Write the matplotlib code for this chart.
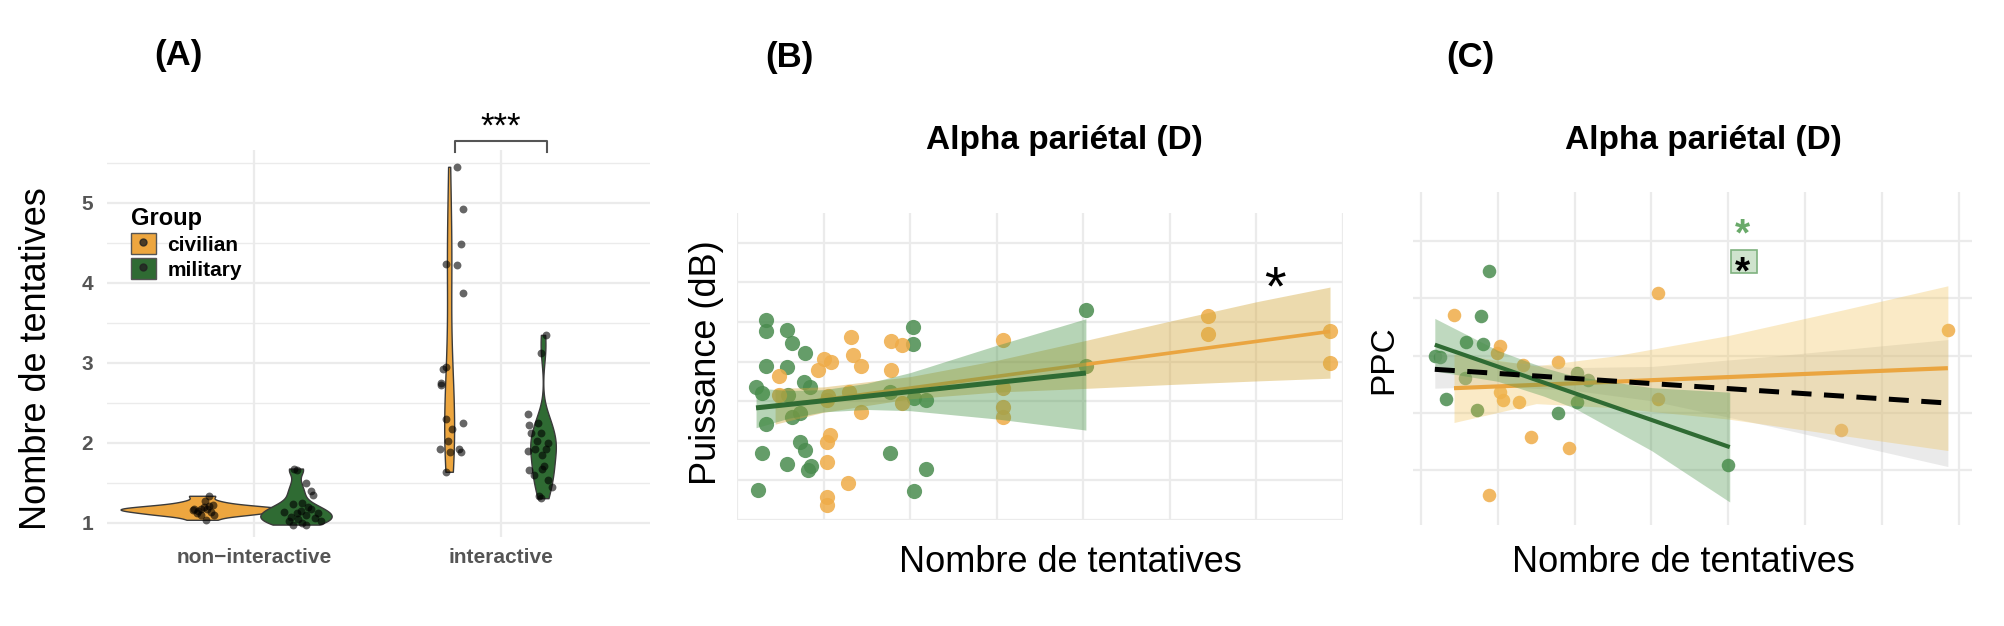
import numpy as np
import matplotlib
matplotlib.use('Agg')
import matplotlib.pyplot as plt
from matplotlib.patches import Patch, Rectangle
from matplotlib.lines import Line2D
from matplotlib.legend_handler import HandlerTuple

plt.rcParams['font.family'] = ['Liberation Sans', 'DejaVu Sans']

# ---------------- Panel A data ----------------
conditions = ['non\u2212interactive', 'interactive']
groups = ['civilian', 'military']
a_civ_nonint_x = [0.752, 0.772, 0.785, 0.798, 0.818, 0.834, 0.838, 0.785, 0.806, 0.818, 0.757, 0.826, 0.80, 0.77, 0.81]
a_civ_nonint_y = [1.16, 1.15, 1.18, 1.20, 1.21, 1.23, 1.10, 1.10, 1.04, 1.34, 1.18, 1.14, 1.27, 1.12, 1.17]
a_mil_nonint_x = [1.162, 1.176, 1.211, 1.231, 1.238, 1.194, 1.158, 1.229, 1.123, 1.176, 1.211, 1.246, 1.140, 1.194,
                  1.273, 1.158, 1.211, 1.19, 1.22, 1.15, 1.26, 1.18]
a_mil_nonint_y = [1.68, 1.66, 1.50, 1.40, 1.35, 1.25, 1.24, 1.18, 1.14, 1.12, 1.10, 1.06, 1.02, 1.00,
                  1.03, 0.98, 0.98, 1.15, 1.20, 1.08, 1.12, 1.05]
a_civ_int_x = [1.820, 1.846, 1.838, 1.776, 1.820, 1.846, 1.776, 1.767, 1.757, 1.757, 1.776, 1.846, 1.802, 1.785,
               1.753, 1.794, 1.830, 1.838, 1.776]
a_civ_int_y = [5.45, 4.92, 4.49, 4.24, 4.22, 3.87, 2.95, 2.93, 2.75, 2.73, 2.30, 2.25, 2.18, 2.02,
               1.92, 1.89, 1.92, 1.89, 1.64]
a_mil_int_x = [2.182, 2.161, 2.111, 2.115, 2.150, 2.161, 2.120, 2.147, 2.190, 2.111, 2.138, 2.115, 2.164, 2.173,
               2.132, 2.190, 2.208, 2.155, 2.161, 2.182, 2.164]
a_mil_int_y = [3.35, 3.12, 2.36, 2.22, 2.25, 2.12, 2.12, 2.02, 2.00, 1.90, 1.93, 1.66, 1.68, 1.71,
               1.60, 1.54, 1.45, 1.34, 1.31, 1.92, 1.85]
a_yticks = [1, 2, 3, 4, 5]
a_signif = '***'

# ---------------- Panel B data ----------------
b_mil_x = [0.335, 0.34, 0.58, 0.63, 0.79, 0.34, 0.58, 0.22, 0.29, 0.77, 0.84, 0.59, 0.73, 0.63, 0.33, 0.73,
           0.79, 0.29, 0.58, 0.86, 0.82, 1.77, 2.03, 2.03, 2.18, 2.04, 1.77, 2.18, 4.03, 4.03, 0.24, 2.05]
b_mil_y = [5.05, 4.76, 4.80, 4.48, 4.21, 3.89, 3.87, 3.37, 3.20, 3.49, 3.37, 3.16, 2.69, 2.61, 2.42, 1.98,
           1.77, 1.68, 1.41, 1.36, 1.26, 1.70, 4.88, 4.44, 3.03, 3.07, 3.24, 1.28, 5.30, 3.89, 0.76, 0.74]
b_civ_x = [0.48, 0.49, 1.00, 1.09, 0.94, 1.32, 1.34, 1.43, 1.29, 1.04, 1.05, 1.43, 1.07, 1.04, 1.04, 1.78,
           1.91, 1.78, 1.91, 3.07, 3.07, 3.07, 3.07, 1.28, 1.04, 1.04, 5.44, 5.44, 6.85, 6.85]
b_civ_y = [3.64, 3.16, 4.06, 4.00, 3.79, 4.61, 4.17, 3.89, 3.24, 3.03, 3.13, 2.73, 2.15, 1.98, 1.47, 4.53,
           4.42, 3.79, 2.96, 4.54, 3.32, 2.86, 2.61, 0.94, 0.59, 0.38, 5.15, 4.70, 4.76, 3.97]
b_civ_fit_x = [0.44, 6.85]
b_civ_fit_y = [2.87, 4.76]
b_mil_fit_x = [0.22, 4.03]
b_mil_fit_y = [2.83, 3.71]
b_mil_band_x = [0.22, 0.6, 1.0, 1.5, 2.0, 3.0, 4.03]
b_mil_band_lo = [2.33, 2.57, 2.73, 2.79, 2.76, 2.55, 2.27]
b_mil_band_hi = [3.33, 3.27, 3.29, 3.45, 3.72, 4.41, 5.08]
b_civ_band_x = [0.44, 1.0, 2.0, 3.0, 4.0, 5.0, 6.0, 6.85]
b_civ_band_lo = [2.42, 2.72, 3.06, 3.23, 3.32, 3.42, 3.51, 3.58]
b_civ_band_hi = [3.32, 3.36, 3.62, 4.03, 4.52, 5.02, 5.51, 5.88]

# ---------------- Panel C data ----------------
c_mil_x = [0.88, 0.78, 0.59, 0.81, 0.25, 0.18, 0.57, 0.33, 0.73, 1.78, 2.03, 2.18, 2.03, 4.00]
c_mil_y = [3.48, 2.69, 2.24, 2.20, 1.98, 1.99, 1.60, 1.24, 1.04, 1.00, 1.69, 1.57, 1.19, 0.09]
c_civ_x = [0.43, 1.03, 0.99, 1.07, 1.03, 1.27, 1.33, 1.79, 1.43, 1.93, 0.88, 3.08, 3.08, 5.47, 6.86]
c_civ_y = [2.71, 2.16, 2.04, 1.23, 1.37, 1.18, 1.83, 1.88, 0.58, 0.38, -0.44, 3.10, 1.24, 0.70, 2.45]
c_civ_fit_x = [0.43, 6.86]
c_civ_fit_y = [1.43, 1.78]
c_mil_fit_x = [0.18, 4.02]
c_mil_fit_y = [2.19, 0.40]
c_all_fit_x = [0.18, 6.86]
c_all_fit_y = [1.76, 1.17]
c_mil_band_x = [0.18, 1.0, 1.6, 2.0, 3.0, 4.02]
c_mil_band_hi = [2.65, 2.09, 1.79, 1.64, 1.44, 1.36]
c_mil_band_lo = [1.73, 1.55, 1.29, 1.08, 0.34, -0.56]
c_civ_band_x = [0.43, 1.5, 2.5, 4.0, 5.5, 6.86]
c_civ_band_hi = [2.03, 1.82, 1.99, 2.35, 2.80, 3.22]
c_civ_band_lo = [0.83, 1.16, 1.09, 0.89, 0.60, 0.34]
c_all_band_x = [0.18, 1.0, 2.0, 3.0, 4.5, 6.86]
c_all_band_hi = [2.07, 1.90, 1.79, 1.81, 1.98, 2.28]
c_all_band_lo = [1.43, 1.46, 1.39, 1.21, 0.78, 0.06]

# ---------------- styles ----------------
ORANGE = '#EDA63F'
GREEN = '#2F6B33'
PT_GREEN = '#4A8C4F'
PT_ORANGE = '#EFAC48'
GRID = '#EBEBEB'

fig = plt.figure(figsize=(20.04, 6.26), dpi=100)

# ======== Panel A ========
axA = fig.add_axes([107/2004, 1-537/626, 543/2004, 387/626])
axA.set_xlim(0.405, 2.603)
axA.set_ylim(0.825, 5.66)
for s in axA.spines.values():
    s.set_visible(False)
axA.set_yticks(a_yticks)
axA.set_yticks([1.5, 2.5, 3.5, 4.5, 5.5], minor=True)
axA.set_xticks([1, 2])
axA.set_xticklabels(conditions)
axA.tick_params(axis='both', which='both', length=0)
axA.tick_params(axis='y', labelsize=15, labelcolor='#555555', pad=10)
axA.tick_params(axis='x', labelsize=15, labelcolor='#555555', pad=8)
for lab in axA.get_xticklabels() + axA.get_yticklabels():
    lab.set_fontweight('bold')
axA.grid(True, which='major', color=GRID, lw=1.6)
axA.grid(True, which='minor', axis='y', color=GRID, lw=1.0)
axA.set_axisbelow(True)


def kde(vals, grid):
    v = np.asarray(vals, float)
    n = len(v)
    sd = v.std(ddof=1)
    q75, q25 = np.percentile(v, [75, 25])
    bw = 0.9 * min(sd, (q75 - q25) / 1.34) * n ** -0.2
    return np.exp(-0.5 * ((grid[:, None] - v[None, :]) / bw) ** 2).sum(1) / (n * bw * np.sqrt(2 * np.pi))


violins = [
    (0.79, a_civ_nonint_y, ORANGE),
    (1.17, a_mil_nonint_y, GREEN),
    (1.79, a_civ_int_y, ORANGE),
    (2.17, a_mil_int_y, GREEN),
]
dens = []
for c, vals, col in violins:
    g = np.linspace(min(vals), max(vals), 300)
    dens.append((g, kde(vals, g)))
scale = 0.33 / max(d.max() for g, d in dens)
for (c, vals, col), (g, d) in zip(violins, dens):
    axA.fill_betweenx(g, c - d * scale, c + d * scale, facecolor=col, edgecolor='#3a3a3a', lw=1.0, zorder=2)

for xs, ys in [(a_civ_nonint_x, a_civ_nonint_y), (a_mil_nonint_x, a_mil_nonint_y),
               (a_civ_int_x, a_civ_int_y), (a_mil_int_x, a_mil_int_y)]:
    axA.scatter(xs, ys, s=32, color='black', alpha=0.6, lw=0, zorder=3)

# significance bracket
axA.plot([1.814, 1.814, 2.186, 2.186], [5.64, 5.775, 5.775, 5.64], color='#555555', lw=1.5, clip_on=False)
axA.text(2.0, 5.74, a_signif, ha='center', va='bottom', fontsize=25, color='black', clip_on=False)

# legend
handles = []
for col in [ORANGE, GREEN]:
    handles.append((Patch(facecolor=col, edgecolor='#555555', lw=1.0),
                    Line2D([], [], marker='o', ls='', color='#222222', ms=5, alpha=0.8)))
leg = axA.legend(handles, groups, handler_map={tuple: HandlerTuple(ndivide=1, pad=0)},
                 loc='upper left', bbox_to_anchor=(0.025, 0.88), frameon=False,
                 title='Group', alignment='left', prop={'size': 15, 'weight': 'bold'},
                 title_fontproperties={'size': 17, 'weight': 'bold'},
                 handlelength=1.2, handleheight=1.2, labelspacing=0.15, handletextpad=0.55, borderpad=0)

fig.text(37/2004, 1-359/626, 'Nombre de tentatives', rotation=90, ha='center', va='center', fontsize=26)
fig.text(178/2004, 1-55/626, '(A)', ha='center', va='center', fontsize=25, fontweight='bold')

# ======== Panel B ========
axB = fig.add_axes([737/2004, 1-520/626, 606/2004, 307/626])
axB.set_xlim(0, 7)
axB.set_ylim(0, 7.75)
for s in axB.spines.values():
    s.set_visible(False)
axB.set_xticks(range(8))
axB.set_yticks(range(8))
axB.tick_params(length=0, labelbottom=False, labelleft=False)
axB.grid(True, color=GRID, lw=1.6)
axB.set_axisbelow(True)
axB.scatter(b_mil_x, b_mil_y, s=120, color=PT_GREEN, alpha=0.85, lw=0, zorder=2, clip_on=False)
axB.scatter(b_civ_x, b_civ_y, s=120, color=PT_ORANGE, alpha=0.85, lw=0, zorder=2, clip_on=False)
axB.fill_between(b_civ_band_x, b_civ_band_lo, b_civ_band_hi, color='#D4A83C', alpha=0.42, lw=0, zorder=3)
axB.plot(b_civ_fit_x, b_civ_fit_y, color='#EAA540', lw=2.6, zorder=4, solid_capstyle='butt')
axB.fill_between(b_mil_band_x, b_mil_band_lo, b_mil_band_hi, color='#4A944A', alpha=0.4, lw=0, zorder=5)
axB.plot(b_mil_fit_x, b_mil_fit_y, color=GREEN, lw=3.6, zorder=6, solid_capstyle='butt')
axB.text(6.22, 5.44, '*', ha='center', va='baseline', fontsize=40, color='black')

fig.text(789/2004, 1-57/626, '(B)', ha='center', va='center', fontsize=25, fontweight='bold')
fig.text(1064/2004, 1-141/626, 'Alpha pariétal (D)', ha='center', va='center', fontsize=24, fontweight='bold')
fig.text(1070/2004, 1-562/626, 'Nombre de tentatives', ha='center', va='center', fontsize=26)
fig.text(706/2004, 1-363/626, 'Puissance (dB)', rotation=90, ha='center', va='center', fontsize=26)

# ======== Panel C ========
axC = fig.add_axes([1413/2004, 1-525/626, 559/2004, 333/626])
axC.set_xlim(-0.104, 7.174)
axC.set_ylim(-0.962, 4.86)
for s in axC.spines.values():
    s.set_visible(False)
axC.set_xticks(range(8))
axC.set_yticks(range(5))
axC.tick_params(length=0, labelbottom=False, labelleft=False)
axC.grid(True, color=GRID, lw=1.6)
axC.set_axisbelow(True)
axC.scatter(c_mil_x, c_mil_y, s=95, color=PT_GREEN, alpha=0.85, lw=0, zorder=2)
axC.scatter(c_civ_x, c_civ_y, s=95, color=PT_ORANGE, alpha=0.85, lw=0, zorder=2)
axC.fill_between(c_all_band_x, c_all_band_lo, c_all_band_hi, color='#BBBBBB', alpha=0.3, lw=0, zorder=3)
axC.fill_between(c_civ_band_x, c_civ_band_lo, c_civ_band_hi, color='#F0C050', alpha=0.32, lw=0, zorder=3)
axC.plot(c_civ_fit_x, c_civ_fit_y, color='#EAA540', lw=3.0, zorder=4, solid_capstyle='butt')
axC.fill_between(c_mil_band_x, c_mil_band_lo, c_mil_band_hi, color='#4A944A', alpha=0.35, lw=0, zorder=5)
axC.plot(c_mil_fit_x, c_mil_fit_y, color=GREEN, lw=3.0, zorder=6, solid_capstyle='butt')
axC.plot(c_all_fit_x, c_all_fit_y, color='black', lw=3.6, ls=(0, (4, 2.5)), zorder=7)
axC.text(4.19, 3.79, '*', ha='center', va='bottom', fontsize=28, fontweight='bold', color='#6AAA6A')
axC.add_patch(Rectangle((4.03, 3.45), 0.35, 0.40, facecolor='#CFE3CD', edgecolor='#7FB27F', lw=1.2, zorder=6))
axC.text(4.19, 3.755, '*', ha='center', va='top', fontsize=28, fontweight='bold', color='black', zorder=7)

fig.text(1470/2004, 1-58/626, '(C)', ha='center', va='center', fontsize=25, fontweight='bold')
fig.text(1703/2004, 1-141/626, 'Alpha pariétal (D)', ha='center', va='center', fontsize=24, fontweight='bold')
fig.text(1683/2004, 1-562/626, 'Nombre de tentatives', ha='center', va='center', fontsize=26)
fig.text(1384/2004, 1-360/626, 'PPC', rotation=90, ha='center', va='center', fontsize=24)

fig.savefig('out.png', dpi=100, facecolor='white')
